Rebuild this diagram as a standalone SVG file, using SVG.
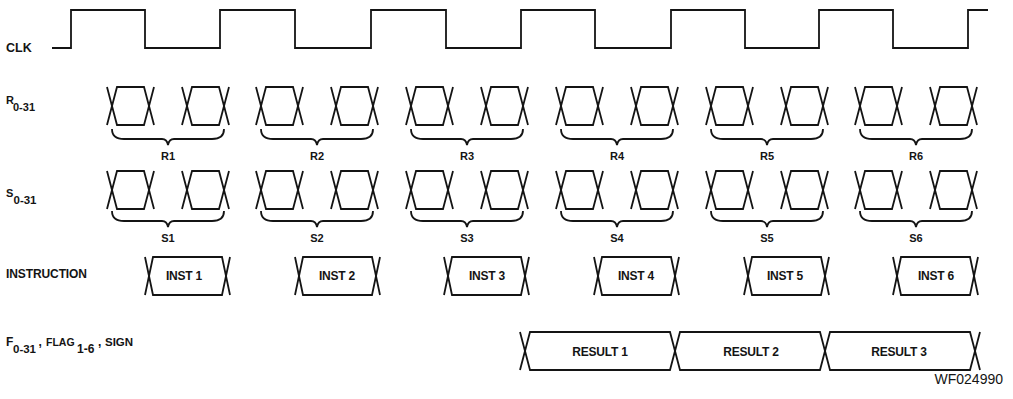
<svg xmlns="http://www.w3.org/2000/svg" xmlns:xlink="http://www.w3.org/1999/xlink" width="1013" height="399" viewBox="0 0 1013 399">
<style>
  .w { fill: none; stroke: #141414; stroke-width: 1.8; stroke-linejoin: miter; }
  .lbl { font-family: "Liberation Sans", Arial, sans-serif; font-weight: bold; fill: #141414; }
  .t { font-family: "Liberation Sans", Arial, sans-serif; font-weight: bold; font-size: 12px; fill: #141414; text-anchor: middle; letter-spacing: -0.2px; }
  .g { font-family: "Liberation Sans", Arial, sans-serif; font-weight: bold; font-size: 11px; fill: #141414; text-anchor: middle; }
</style>
<defs>
  <path id="eye" class="w" d="M-5,0 L5,38 H32 L42,0 M-5,38 L5,0 H32 L42,38"/>
  <path id="inst" class="w" d="M-4,0 L4,38 H73 L81,0 M-4,38 L4,0 H73 L81,38"/>
  <path id="brace" class="w" d="M0,0 Q0,10 12,10 L50,10 Q55,10 56,16 Q57,10 62,10 L100,10 Q112,10 112,0"/>
</defs>
<rect width="1013" height="399" fill="#ffffff"/>

<g id="labels">
  <text class="lbl" x="6" y="52" font-size="12.5">CLK</text>
  <text class="lbl"><tspan x="6" y="104" font-size="11">R</tspan><tspan x="13" y="110.5" font-size="11">0-31</tspan></text>
  <text class="lbl"><tspan x="6" y="197" font-size="11">S</tspan><tspan x="13.5" y="204" font-size="11.5">0-31</tspan></text>
  <text class="lbl" x="6" y="278" font-size="12" letter-spacing="-0.1">INSTRUCTION</text>
  <text class="lbl"><tspan x="6" y="346" font-size="12">F</tspan><tspan x="13" y="352.5" font-size="11.5">0-31</tspan><tspan x="38.5" y="346" font-size="12">,</tspan><tspan x="46" y="346" font-size="10.5">FLAG</tspan><tspan x="77" y="352.5" font-size="12">1-6</tspan><tspan x="98" y="346" font-size="12">,</tspan><tspan x="105" y="346" font-size="11.5">SIGN</tspan></text>
</g>

<g id="clk">
  <path class="w" d="M52,48 H71 V10 H145 V48 H220 V10 H295 V48 H371 V10 H446 V48 H521 V10 H595 V48 H671 V10 H745 V48 H819 V10 H893 V48 H968 V10 H988"/>
</g>

<g id="r-row">
  <use xlink:href="#eye" href="#eye" x="112" y="87"/>
  <use xlink:href="#eye" href="#eye" x="187" y="87"/>
  <use xlink:href="#eye" href="#eye" x="261" y="87"/>
  <use xlink:href="#eye" href="#eye" x="336" y="87"/>
  <use xlink:href="#eye" href="#eye" x="411" y="87"/>
  <use xlink:href="#eye" href="#eye" x="486" y="87"/>
  <use xlink:href="#eye" href="#eye" x="561" y="87"/>
  <use xlink:href="#eye" href="#eye" x="636" y="87"/>
  <use xlink:href="#eye" href="#eye" x="711" y="87"/>
  <use xlink:href="#eye" href="#eye" x="786" y="87"/>
  <use xlink:href="#eye" href="#eye" x="860" y="87"/>
  <use xlink:href="#eye" href="#eye" x="935" y="87"/>
  <use xlink:href="#brace" href="#brace" x="112" y="129"/>
  <use xlink:href="#brace" href="#brace" x="261" y="129"/>
  <use xlink:href="#brace" href="#brace" x="411" y="129"/>
  <use xlink:href="#brace" href="#brace" x="561" y="129"/>
  <use xlink:href="#brace" href="#brace" x="711" y="129"/>
  <use xlink:href="#brace" href="#brace" x="860" y="129"/>
  <text class="g" x="168" y="160">R1</text>
  <text class="g" x="317" y="160">R2</text>
  <text class="g" x="467" y="160">R3</text>
  <text class="g" x="617" y="160">R4</text>
  <text class="g" x="767" y="160">R5</text>
  <text class="g" x="916" y="160">R6</text>
</g>

<g id="s-row">
  <use xlink:href="#eye" href="#eye" x="112" y="171"/>
  <use xlink:href="#eye" href="#eye" x="187" y="171"/>
  <use xlink:href="#eye" href="#eye" x="261" y="171"/>
  <use xlink:href="#eye" href="#eye" x="336" y="171"/>
  <use xlink:href="#eye" href="#eye" x="411" y="171"/>
  <use xlink:href="#eye" href="#eye" x="486" y="171"/>
  <use xlink:href="#eye" href="#eye" x="561" y="171"/>
  <use xlink:href="#eye" href="#eye" x="636" y="171"/>
  <use xlink:href="#eye" href="#eye" x="711" y="171"/>
  <use xlink:href="#eye" href="#eye" x="786" y="171"/>
  <use xlink:href="#eye" href="#eye" x="860" y="171"/>
  <use xlink:href="#eye" href="#eye" x="935" y="171"/>
  <use xlink:href="#brace" href="#brace" x="112" y="211"/>
  <use xlink:href="#brace" href="#brace" x="261" y="211"/>
  <use xlink:href="#brace" href="#brace" x="411" y="211"/>
  <use xlink:href="#brace" href="#brace" x="561" y="211"/>
  <use xlink:href="#brace" href="#brace" x="711" y="211"/>
  <use xlink:href="#brace" href="#brace" x="860" y="211"/>
  <text class="g" x="168" y="242">S1</text>
  <text class="g" x="317" y="242">S2</text>
  <text class="g" x="467" y="242">S3</text>
  <text class="g" x="617" y="242">S4</text>
  <text class="g" x="767" y="242">S5</text>
  <text class="g" x="916" y="242">S6</text>
</g>

<g id="instruction">
  <use xlink:href="#inst" href="#inst" x="149" y="257"/>
  <use xlink:href="#inst" href="#inst" x="299" y="257"/>
  <use xlink:href="#inst" href="#inst" x="448" y="257"/>
  <use xlink:href="#inst" href="#inst" x="598" y="257"/>
  <use xlink:href="#inst" href="#inst" x="748" y="257"/>
  <use xlink:href="#inst" href="#inst" x="897" y="257"/>
  <text class="t" x="184" y="280">INST 1</text>
  <text class="t" x="337" y="280">INST 2</text>
  <text class="t" x="487" y="280">INST 3</text>
  <text class="t" x="636" y="280">INST 4</text>
  <text class="t" x="785" y="280">INST 5</text>
  <text class="t" x="936" y="280">INST 6</text>
</g>

<g id="result">
  <path class="w" d="M520,332 L530,370 H670 L680,332 H820 L830,370 H970 L980,332 M520,370 L530,332 H670 L680,370 H820 L830,332 H970 L980,370"/>
  <text class="t" x="600" y="356">RESULT 1</text>
  <text class="t" x="751" y="356">RESULT 2</text>
  <text class="t" x="899" y="356">RESULT 3</text>
</g>

<g id="figure-id">
  <text x="1003" y="384" font-family="Liberation Sans, Arial, sans-serif" font-size="14" fill="#141414" text-anchor="end">WF024990</text>
</g>
</svg>
